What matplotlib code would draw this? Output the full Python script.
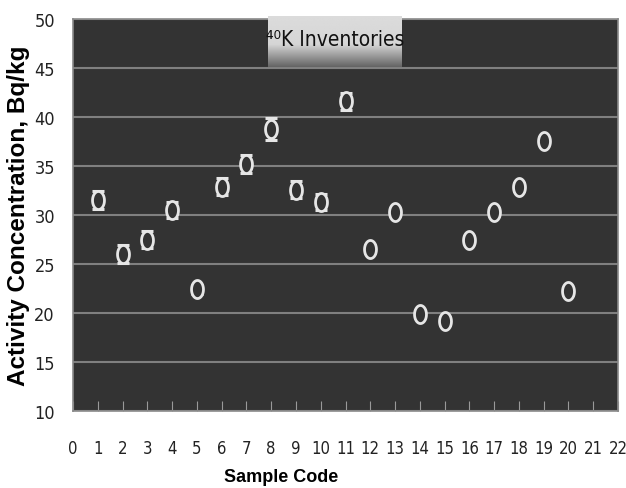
import numpy as np
import matplotlib
matplotlib.use("Agg")
import matplotlib.pyplot as plt
from matplotlib.path import Path

sample = [1, 2, 3, 4, 5, 6, 7, 8, 9, 10, 11, 12, 13, 14, 15, 16, 17, 18, 19, 20]
activity = [31.5, 26.0, 27.5, 30.5, 22.4, 32.9, 35.2, 38.8, 32.6, 31.3, 41.6,
            26.5, 30.3, 19.9, 19.2, 27.5, 30.3, 32.9, 37.6, 22.2]
errors = [0.9, 0.9, 0.9, 0.8, 0.5, 0.9, 0.9, 1.1, 0.9, 0.8, 0.9,
          0.4, 0.4, 0.4, 0.4, 0.4, 0.4, 0.4, 0.4, 0.4]
xticks = list(range(0, 23))
yticks = [10, 15, 20, 25, 30, 35, 40, 45, 50]

narrow = ["Liberation Sans Narrow", "DejaVu Sans"]

fig = plt.figure(figsize=(6.26, 4.89), dpi=100)
fig.patch.set_facecolor("white")
ax = fig.add_axes([73/626, 1 - 412/489, (618 - 73)/626, (412 - 20)/489])
ax.set_facecolor("#333333")
ax.set_xlim(0, 22)
ax.set_ylim(10, 50)
ax.set_yticks(yticks)
ax.set_xticks(xticks)
ax.grid(axis="y", color="#808080", linewidth=1.5)
ax.set_axisbelow(True)
for s in ax.spines.values():
    s.set_color("#8a8a8a")
    s.set_linewidth(1.2)
ax.tick_params(axis="x", direction="in", length=7, color="#9a9a9a", pad=20,
               labelsize=12, labelcolor="#222222")
ax.tick_params(axis="y", length=0, pad=13, labelsize=13, labelcolor="#222222")
for lab in ax.get_xticklabels() + ax.get_yticklabels():
    lab.set_family(narrow)
    lab.set_stretch("condensed")

t = np.linspace(0, 2*np.pi, 60)
ell = Path(np.column_stack([0.66*np.cos(t), np.sin(t)]), closed=True)

ax.errorbar(sample, activity, yerr=errors, fmt="none", ecolor="#e6e6e6",
            elinewidth=1.2, capsize=4.5, capthick=2.2, zorder=3)
ax.plot(sample, activity, linestyle="none", marker=ell, markersize=13,
        markerfacecolor="#333333", markeredgecolor="#e6e6e6",
        markeredgewidth=2.0, zorder=4)

ax.set_xlabel("Sample Code", fontsize=13, fontweight="bold",
              family=["Liberation Sans Narrow", "Liberation Sans"])
ax.xaxis.set_label_coords((281 - 73) / (618 - 73), -(478 - 412) / (412 - 20),
                          transform=ax.transAxes)
ax.xaxis.label.set_va("center")
ax.set_ylabel("Activity Concentration, Bq/kg", fontsize=17.5, fontweight="bold",
              family="Liberation Sans")
ax.yaxis.set_label_coords(-(73 - 19) / (618 - 73), 0.5, transform=ax.transAxes)
ax.yaxis.label.set_va("center")

# title box with gradient
tax = fig.add_axes([268/626, 1 - 68/489, (402 - 268)/626, (68 - 17)/489])
yy = np.linspace(0, 1, 200)
grad = np.where(yy < 0.55, 0.86 - 0.04 * yy, 0.84 - (yy - 0.55) / 0.45 * 0.45).reshape(-1, 1)
tax.imshow(grad, aspect="auto", cmap="gray", vmin=0, vmax=1, extent=[0, 1, 0, 1])
tax.set_xlim(0, 1); tax.set_ylim(0, 1)
tax.axis("off")
tax.text(0.5, 0.55, "\u2074\u2070K Inventories", ha="center", va="center",
         fontsize=15, family=narrow, stretch="condensed", color="#111111")

fig.savefig("out.png", dpi=100)
